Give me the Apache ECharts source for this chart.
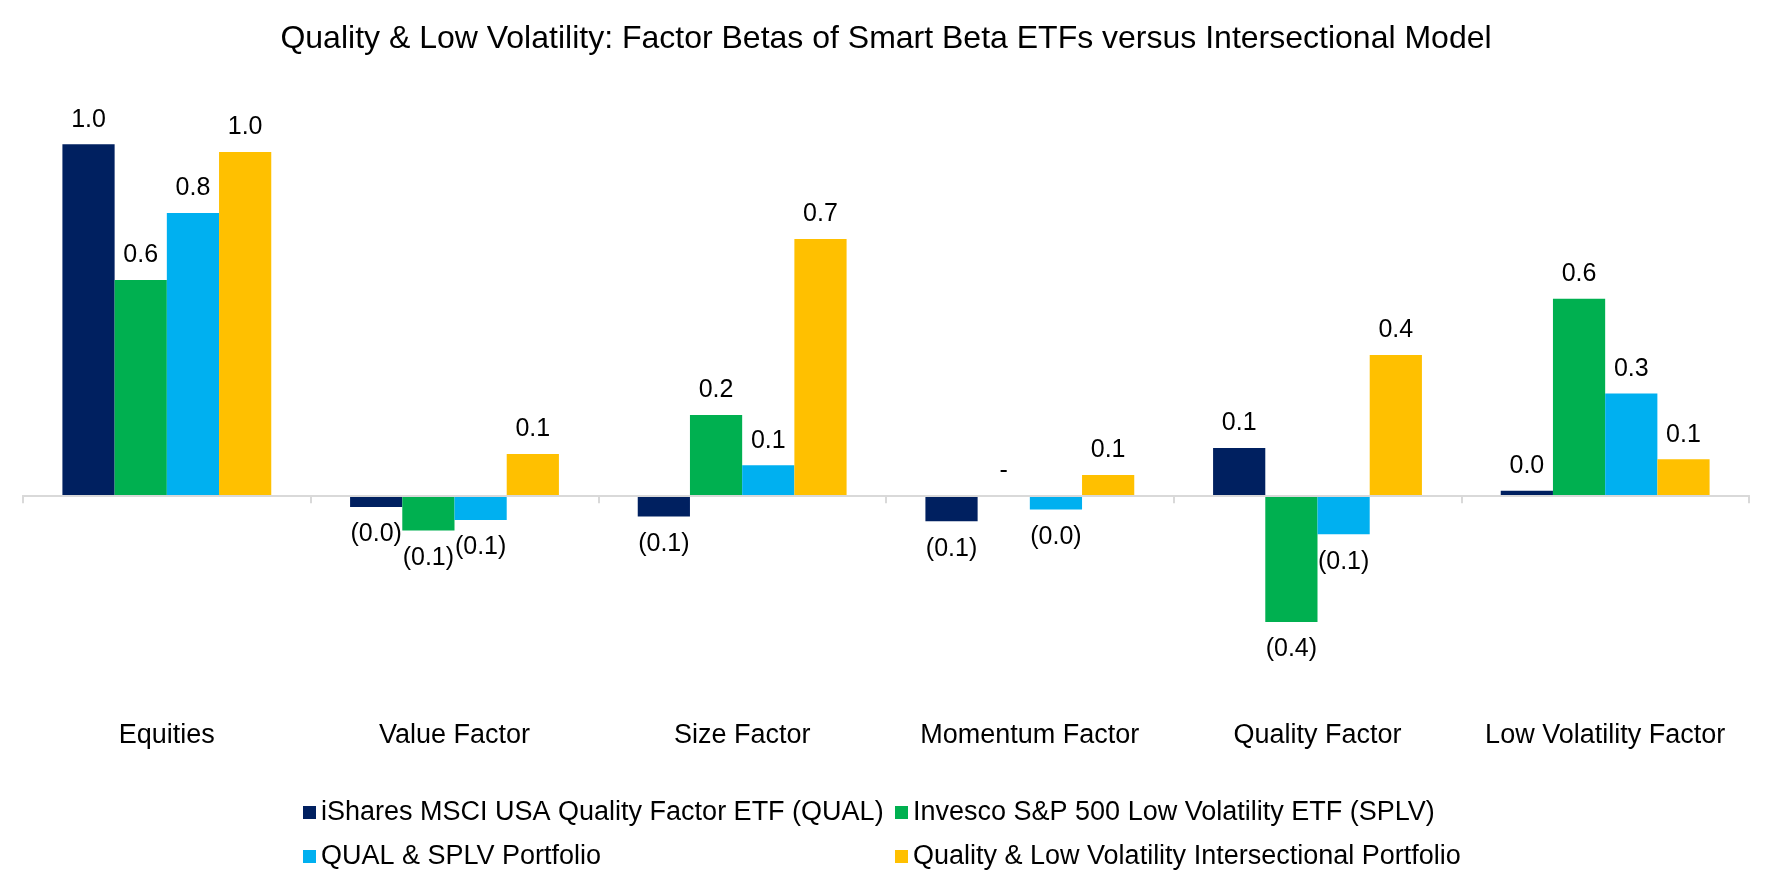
<!DOCTYPE html>
<html>
<head>
<meta charset="utf-8">
<script src="https://cdn.jsdelivr.net/npm/echarts@6/dist/echarts.min.js"></script>
<style>
  html, body { margin: 0; padding: 0; background: #fff; }
  #chart { width: 1772px; height: 886px; }
</style>
</head>
<body>
<div id="chart"></div>
<script>
const categories = ['Equities', 'Value Factor', 'Size Factor', 'Momentum Factor', 'Quality Factor', 'Low Volatility Factor'];
const seriesNames = [
    'iShares MSCI USA Quality Factor ETF (QUAL)',
    'Invesco S&P 500 Low Volatility ETF (SPLV)',
    'QUAL & SPLV Portfolio',
    'Quality & Low Volatility Intersectional Portfolio'
];
const qualBetas = [1.00, -0.033, -0.06, -0.074, 0.135, 0.013];
const splvBetas = [0.613, -0.10, 0.229, 0, -0.361, 0.56];
const blendBetas = [0.804, -0.07, 0.086, -0.04, -0.111, 0.29];
const intersectionalBetas = [0.978, 0.118, 0.73, 0.058, 0.40, 0.103];

(function () {
    "use strict";

    const FONT = '"Liberation Sans", Arial, sans-serif';
    const colors = ['#002060', '#00B050', '#00B0F0', '#FFC000'];
    const allValues = [qualBetas, splvBetas, blendBetas, intersectionalBetas];

    // Excel style number format: 0.0;(0.0);-
    function fmt(v) {
        if (v === 0) return '-';
        if (v < 0) return '(' + Math.abs(v).toFixed(1) + ')';
        return v.toFixed(1);
    }

    function buildSeries() {
        return seriesNames.map(function (name, i) {
            return {
                name: name,
                type: 'bar',
                xAxisIndex: 0,
                barGap: '0%',
                barCategoryGap: '27.4%',
                itemStyle: { color: colors[i] },
                label: {
                    show: true,
                    fontFamily: FONT,
                    fontSize: 25,
                    color: '#000',
                    formatter: function (p) { return fmt(p.value); }
                },
                data: allValues[i].map(function (v) {
                    return {
                        value: v,
                        label: { position: v < 0 ? 'bottom' : 'top', distance: v < 0 ? 15 : 12 }
                    };
                })
            };
        });
    }

    function legendItem(name, left, top) {
        return {
            data: [name],
            left: left,
            top: top,
            padding: 0,
            icon: 'rect',
            itemWidth: 13,
            itemHeight: 13,
            selectedMode: false,
            textStyle: { fontFamily: FONT, fontSize: 27, color: '#000' }
        };
    }

    let myChart = echarts.init(document.getElementById('chart'), null, { renderer: 'canvas' });
    let option = {
        animation: false,
        backgroundColor: '#fff',
        title: {
            text: 'Quality & Low Volatility: Factor Betas of Smart Beta ETFs versus Intersectional Model',
            left: 'center',
            top: 18,
            textStyle: { fontFamily: FONT, fontSize: 32, fontWeight: 'normal', color: '#000' }
        },
        legend: [
            legendItem(seriesNames[0], 303, 799),
            legendItem(seriesNames[1], 895, 799),
            legendItem(seriesNames[2], 303, 843),
            legendItem(seriesNames[3], 895, 843)
        ],
        grid: { left: 23, right: 23, top: 74, bottom: 180, containLabel: false, outerBoundsMode: 'none' },
        xAxis: [
            {
                // category labels along the bottom of the plot
                type: 'category',
                data: categories,
                position: 'bottom',
                axisLine: { show: false, onZero: false },
                axisTick: { show: false },
                axisLabel: { interval: 0, margin: 16, fontFamily: FONT, fontSize: 27, color: '#000' }
            },
            {
                // horizontal axis line sitting on zero
                type: 'category',
                data: categories,
                position: 'bottom',
                z: 10,
                axisLine: { onZero: true, lineStyle: { color: '#d9d9d9', width: 2 } },
                axisTick: { show: true, length: 8, lineStyle: { color: '#d9d9d9', width: 2 } },
                axisLabel: { show: false }
            }
        ],
        yAxis: {
            type: 'value',
            show: false,
            min: -0.6,
            max: 1.2,
            splitLine: { show: false }
        },
        series: buildSeries()
    };
    myChart.setOption(option);
})();
</script>
</body>
</html>
